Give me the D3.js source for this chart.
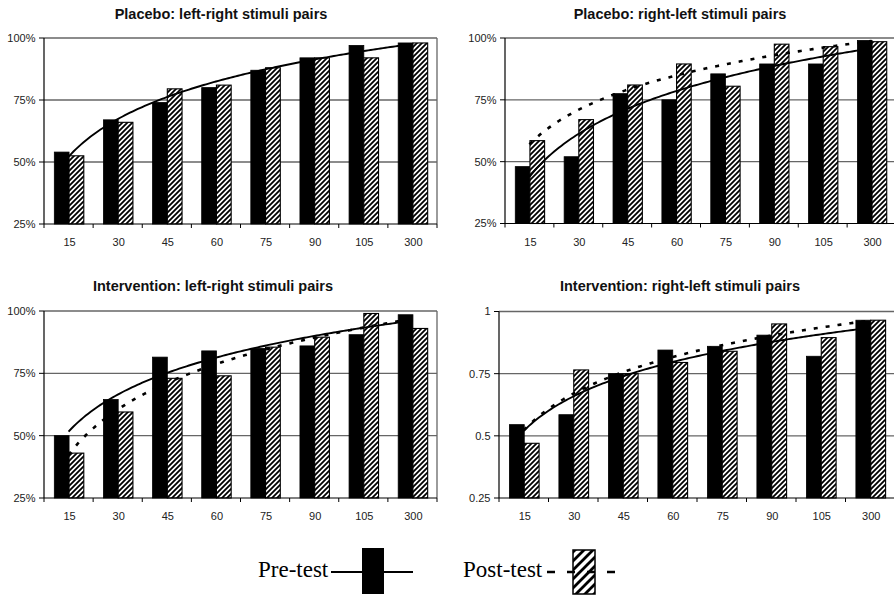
<!DOCTYPE html>
<html>
<head>
<meta charset="utf-8">
<script src="https://cdn.jsdelivr.net/npm/d3@7/dist/d3.min.js"></script>
<style>
  html, body { margin: 0; padding: 0; background: #fff; }
  svg { display: block; }
</style>
</head>
<body>
<svg id="chart" width="894" height="598"></svg>
<script>
// ---------------- DATA ----------------
const categories = ["15", "30", "45", "60", "75", "90", "105", "300"];

const titles = [
  "Placebo: left-right stimuli pairs",
  "Placebo: right-left stimuli pairs",
  "Intervention: left-right stimuli pairs",
  "Intervention: right-left stimuli pairs"
];

// proportion correct (0..1)
const placeboLRPre  = [0.54, 0.67, 0.74, 0.80, 0.87, 0.92, 0.97, 0.98];
const placeboLRPost = [0.525, 0.66, 0.795, 0.81, 0.88, 0.92, 0.92, 0.98];

const placeboRLPre  = [0.48, 0.52, 0.775, 0.75, 0.855, 0.895, 0.895, 0.99];
const placeboRLPost = [0.585, 0.67, 0.81, 0.895, 0.805, 0.975, 0.965, 0.985];

const interLRPre  = [0.50, 0.645, 0.815, 0.84, 0.85, 0.86, 0.905, 0.985];
const interLRPost = [0.43, 0.595, 0.73, 0.74, 0.855, 0.895, 0.99, 0.93];

const interRLPre  = [0.545, 0.585, 0.75, 0.845, 0.86, 0.905, 0.82, 0.965];
const interRLPost = [0.47, 0.765, 0.75, 0.795, 0.84, 0.95, 0.895, 0.965];

const yTickValues = [0.25, 0.5, 0.75, 1];
const yTickLabelsPct = ["25%", "50%", "75%", "100%"];
const yTickLabelsDec = ["0.25", "0.5", "0.75", "1"];

const legendLabels = ["Pre-test", "Post-test"];

// ---------------- LAYOUT ----------------
const panels = [
  { title: titles[0], pre: placeboLRPre, post: placeboLRPost, labels: yTickLabelsPct, postTrend: false,
    left: 44, right: 437, top: 38, bottom: 224, titleX: 221, titleY: 19, xLabY: 246 },
  { title: titles[1], pre: placeboRLPre, post: placeboRLPost, labels: yTickLabelsPct, postTrend: true,
    left: 505, right: 896, top: 38, bottom: 223.5, titleX: 680, titleY: 19, xLabY: 246 },
  { title: titles[2], pre: interLRPre, post: interLRPost, labels: yTickLabelsPct, postTrend: true,
    left: 44, right: 437, top: 311, bottom: 498, titleX: 213, titleY: 291, xLabY: 520 },
  { title: titles[3], pre: interRLPre, post: interRLPost, labels: yTickLabelsDec, postTrend: true,
    left: 499, right: 895, top: 311.5, bottom: 498, titleX: 680, titleY: 291, xLabY: 520 }
];

const FONT = "'Liberation Sans', Arial, Helvetica, sans-serif";
const SERIF = "'Liberation Serif', 'Times New Roman', serif";

const svg = d3.select("#chart");
svg.append("rect").attr("width", 894).attr("height", 598).attr("fill", "#fff");

const defs = svg.append("defs");
function hatch(id, size, sw) {
  const p = defs.append("pattern").attr("id", id)
    .attr("patternUnits", "userSpaceOnUse").attr("width", size).attr("height", size);
  p.append("rect").attr("width", size).attr("height", size).attr("fill", "#fff");
  p.append("path")
    .attr("d", `M${-size/2},${size/2} L${size/2},${-size/2} M0,${size} L${size},0 M${size/2},${size*1.5} L${size*1.5},${size/2}`)
    .attr("stroke", "#000").attr("stroke-width", sw);
}
hatch("hatchBar", 5, 1.8);
hatch("hatchLegend", 9, 2.8);

// logarithmic least-squares trend (as the spreadsheet's trendline)
function logFit(vals) {
  const xs = vals.map((_, i) => Math.log(i + 1));
  const mx = d3.mean(xs), my = d3.mean(vals);
  let sxy = 0, sxx = 0;
  xs.forEach((x, i) => { sxy += (x - mx) * (vals[i] - my); sxx += (x - mx) * (x - mx); });
  const b = sxy / sxx, a = my - b * mx;
  return x => a + b * Math.log(x);
}

panels.forEach(p => {
  const g = svg.append("g");
  const x = d3.scaleBand().domain(categories).range([p.left, p.right]).paddingInner(0).paddingOuter(0);
  const xi = d3.scaleLinear().domain([0.5, categories.length + 0.5]).range([p.left, p.right]);
  const y = d3.scaleLinear().domain([0.25, 1]).range([p.bottom, p.top]);
  const bw = x.bandwidth();
  const barW = bw * 0.3;
  const off = (bw - 2 * barW) / 2 + 0.5;

  // title
  g.append("text").attr("x", p.titleX).attr("y", p.titleY)
    .attr("text-anchor", "middle").attr("font-family", FONT)
    .attr("font-weight", "bold").attr("font-size", 14.5).attr("fill", "#111")
    .text(p.title);

  // gridlines
  g.selectAll("line.grid").data(yTickValues.slice(1)).enter().append("line")
    .attr("x1", p.left).attr("x2", p.right)
    .attr("y1", d => y(d)).attr("y2", d => y(d))
    .attr("stroke", "#666").attr("stroke-width", 1.3);
  // right border
  g.append("line").attr("x1", p.right).attr("x2", p.right).attr("y1", p.top).attr("y2", p.bottom)
    .attr("stroke", "#666").attr("stroke-width", 1.3);

  // bars
  g.selectAll("rect.pre").data(p.pre).enter().append("rect")
    .attr("x", (d, i) => x(categories[i]) + off)
    .attr("y", d => y(d)).attr("width", barW).attr("height", d => p.bottom - y(d))
    .attr("fill", "#000").attr("stroke", "#000").attr("stroke-width", 0.8);
  g.selectAll("rect.post").data(p.post).enter().append("rect")
    .attr("x", (d, i) => x(categories[i]) + off + barW)
    .attr("y", d => y(d)).attr("width", barW).attr("height", d => p.bottom - y(d))
    .attr("fill", "url(#hatchBar)").attr("stroke", "#000").attr("stroke-width", 1.1);

  // trend lines
  const ts = d3.range(1, categories.length + 0.001, 0.05);
  const line = d3.line().x(d => xi(d[0])).y(d => y(d[1]));
  if (p.postTrend) {
    const fPost = logFit(p.post);
    g.append("path").datum(ts.map(t => [t, fPost(t)])).attr("d", line)
      .attr("fill", "none").attr("stroke", "#000").attr("stroke-width", 2.6)
      .attr("stroke-dasharray", "4,8");
  }
  const fPre = logFit(p.pre);
  g.append("path").datum(ts.map(t => [t, fPre(t)])).attr("d", line)
    .attr("fill", "none").attr("stroke", "#000").attr("stroke-width", 1.9);

  // y axis
  g.append("line").attr("x1", p.left).attr("x2", p.left).attr("y1", p.top).attr("y2", p.bottom)
    .attr("stroke", "#000").attr("stroke-width", 1.2);
  g.selectAll("line.yt").data(yTickValues).enter().append("line")
    .attr("x1", p.left - 5).attr("x2", p.left).attr("y1", d => y(d)).attr("y2", d => y(d))
    .attr("stroke", "#000").attr("stroke-width", 1);
  g.selectAll("text.yl").data(yTickValues).enter().append("text")
    .attr("x", p.left - 8.5).attr("y", d => y(d)).attr("dy", "0.35em")
    .attr("text-anchor", "end").attr("font-family", FONT).attr("font-size", 11).attr("fill", "#222")
    .text((d, i) => p.labels[i]);

  // x axis
  g.append("line").attr("x1", p.left).attr("x2", p.right).attr("y1", p.bottom).attr("y2", p.bottom)
    .attr("stroke", "#000").attr("stroke-width", 1.2);
  g.selectAll("line.xt").data(d3.range(categories.length + 1)).enter().append("line")
    .attr("x1", d => xi(d + 0.5)).attr("x2", d => xi(d + 0.5))
    .attr("y1", p.bottom).attr("y2", p.bottom + 4)
    .attr("stroke", "#000").attr("stroke-width", 1);
  g.selectAll("text.xl").data(categories).enter().append("text")
    .attr("x", d => x(d) + bw / 2 + 1).attr("y", p.xLabY)
    .attr("text-anchor", "middle").attr("font-family", FONT).attr("font-size", 11).attr("fill", "#222")
    .text(d => d);
});

// ---------------- LEGEND ----------------
const lg = svg.append("g");
lg.append("text").attr("x", 258).attr("y", 577).attr("font-family", SERIF).attr("font-size", 23)
  .attr("fill", "#000").text(legendLabels[0]);
lg.append("line").attr("x1", 331).attr("x2", 413).attr("y1", 572).attr("y2", 572)
  .attr("stroke", "#000").attr("stroke-width", 2);
lg.append("rect").attr("x", 362).attr("y", 548).attr("width", 22).attr("height", 46).attr("fill", "#000");

lg.append("text").attr("x", 463).attr("y", 577).attr("font-family", SERIF).attr("font-size", 23)
  .attr("fill", "#000").text(legendLabels[1]);
lg.append("rect").attr("x", 573).attr("y", 550).attr("width", 22).attr("height", 44)
  .attr("fill", "url(#hatchLegend)").attr("stroke", "#000").attr("stroke-width", 1.5);
lg.append("line").attr("x1", 547).attr("x2", 616).attr("y1", 572).attr("y2", 572)
  .attr("stroke", "#000").attr("stroke-width", 2.6).attr("stroke-dasharray", "8,12");
</script>
</body>
</html>
